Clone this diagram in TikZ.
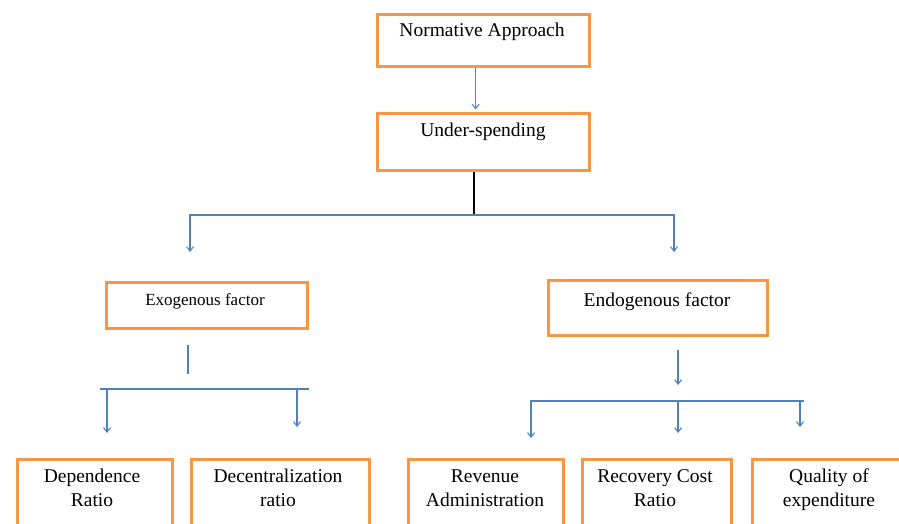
\documentclass[tikz,border=0pt]{standalone}
\usepackage{fontspec}
\setmainfont{Liberation Serif}
\usetikzlibrary{arrows.meta}
\definecolor{boxorange}{HTML}{F79646}
\definecolor{lineblue}{HTML}{4F81BD}
\begin{document}
\begin{tikzpicture}[x=1pt,y=-1pt,
  box/.style={draw=boxorange, line width=3.3pt, inner sep=0pt, anchor=north west},
  lbl/.style={anchor=base, inner sep=0pt, align=center, font=\fontsize{19.5}{24}\selectfont},
  smalllbl/.style={lbl, font=\fontsize{17}{21}\selectfont},
  bline/.style={draw=lineblue, line width=1.2pt},
  arr/.style={bline, -{Straight Barb[length=4.5pt,width=7pt,line width=1.1pt]}}]
\useasboundingbox (0,0) rectangle (899,524);
\clip (0,0) rectangle (899,524);
% boxes
\node[box, minimum width=212pt, minimum height=52pt] (norm) at (376,13) {};
\node[box, minimum width=212pt, minimum height=57pt] (under) at (376,112) {};
\node[box, minimum width=201pt, minimum height=46pt] (exo) at (105,281) {};
\node[box, minimum width=219pt, minimum height=55pt] (endo) at (547,279) {};
\node[box, minimum width=155pt, minimum height=80pt] (dep) at (16,458) {};
\node[box, minimum width=178pt, minimum height=80pt] (dec) at (190,458) {};
\node[box, minimum width=155pt, minimum height=80pt] (rev) at (407,458) {};
\node[box, minimum width=149pt, minimum height=80pt] (rec) at (581,458) {};
\node[box, minimum width=156pt, minimum height=80pt] (qual) at (751,458) {};
% texts
\node[lbl] (normt) at (482,36.5) {Normative Approach};
\node[lbl] (undert) at (483,136.5) {Under-spending};
\node[smalllbl] (exot) at (205,305) {Exogenous factor};
\node[lbl] (endot) at (657,306.5) {Endogenous factor};
\node[lbl] (dept) at (92,506.5) {Dependence\\Ratio};
\node[lbl] (dect) at (278,506.5) {Decentralization\\ratio};
\node[lbl] (revt) at (485,506.5) {Revenue\\Administration};
\node[lbl] (rect) at (655,506.5) {Recovery Cost\\Ratio};
\node[lbl] (qualt) at (829,506.5) {Quality of\\expenditure};
% coordinates
\coordinate (split1) at (474,215);
\coordinate (exoin) at (190,252);
\coordinate (endoin) at (674,252);
\coordinate (exostubtop) at (188,345);
\coordinate (exostubbot) at (188,374);
\coordinate (exol) at (100,389);
\coordinate (exor) at (309,389);
\coordinate (depin) at (107,433);
\coordinate (decin) at (297,427);
\coordinate (endoout) at (678,350);
\coordinate (endosplit) at (678,385);
\coordinate (endol) at (530,401);
\coordinate (endor) at (804,401);
\coordinate (revin) at (531,438);
\coordinate (recin) at (678,433);
\coordinate (qualin) at (800,427);
% connectors
\draw[arr] ([xshift=-8pt]norm.south) -- ([xshift=-8pt,yshift=2.5pt]under.north);
\draw[black, line width=1.2pt] (under.south -| split1) -- (split1);
\draw[arr] (split1) -| (exoin);
\draw[arr] (split1) -| (endoin);
% exogenous branch
\draw[bline] (exostubtop) -- (exostubbot);
\draw[bline] (exol) -- (exor);
\draw[arr] (exol -| depin) -- (depin);
\draw[arr] (exol -| decin) -- (decin);
% endogenous branch
\draw[arr] (endoout) -- (endosplit);
\draw[bline] (endol) -- (endor);
\draw[arr] (endol -| revin) -- (revin);
\draw[arr] (endol -| recin) -- (recin);
\draw[arr] (endol -| qualin) -- (qualin);
\end{tikzpicture}
\end{document}
